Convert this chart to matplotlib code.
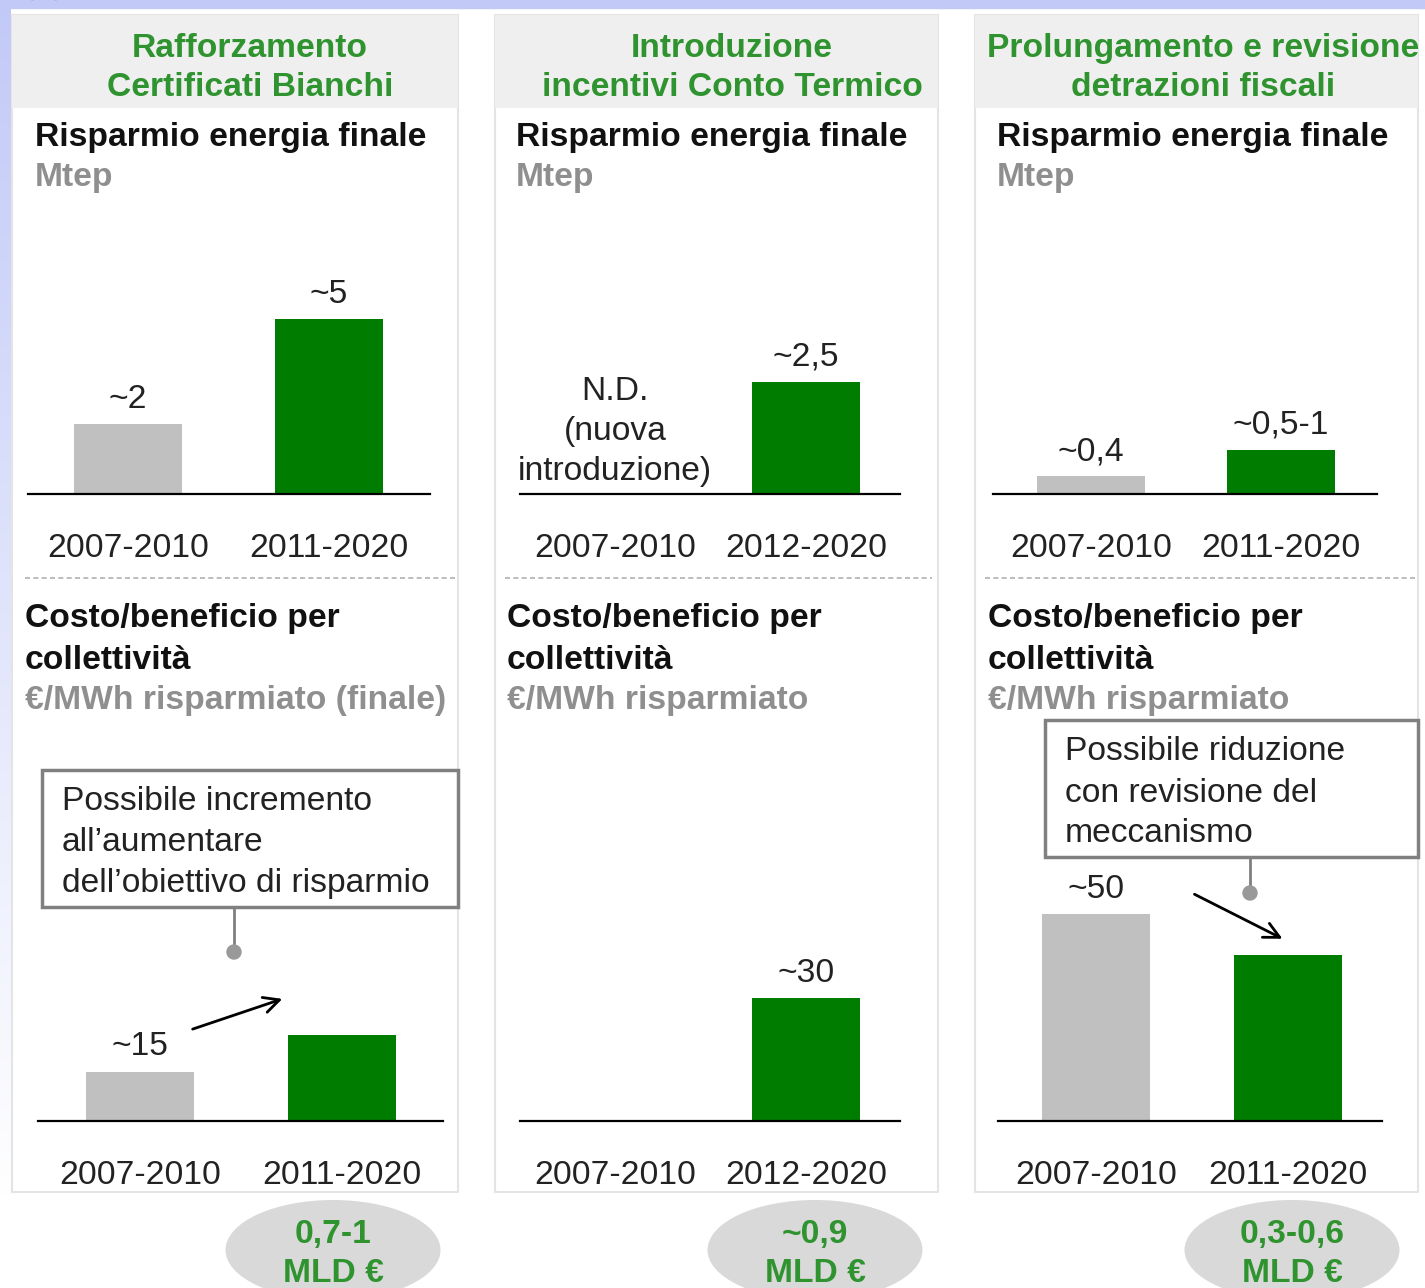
import numpy as np
import matplotlib
matplotlib.use("Agg")
import matplotlib.pyplot as plt
from matplotlib.patches import Rectangle, Ellipse, Circle, Arc

plt.rcParams['font.family'] = ['Liberation Sans', 'DejaVu Sans']

# ---- data ----
headers = ["Rafforzamento\nCertificati Bianchi",
           "Introduzione\nincentivi Conto Termico",
           "Prolungamento e revisione\ndetrazioni fiscali"]
periodi_top = [["2007-2010", "2011-2020"], ["2007-2010", "2012-2020"], ["2007-2010", "2011-2020"]]
periodi_bot = [["2007-2010", "2011-2020"], ["2007-2010", "2012-2020"], ["2007-2010", "2011-2020"]]
risparmio = [[2, 5], [np.nan, 2.5], [0.4, 1.0]]
risparmio_lbl = [["~2", "~5"], [None, "~2,5"], ["~0,4", "~0,5-1"]]
costo = [[15, 26], [np.nan, 30], [50, 40]]
costo_lbl = [["~15", None], [None, "~30"], ["~50", None]]
unita_costo = ["€/MWh risparmiato (finale)", "€/MWh risparmiato", "€/MWh risparmiato"]
totali = [["0,7-1", "MLD €"], ["~0,9", "MLD €"], ["0,3-0,6", "MLD €"]]

W, H = 1425, 1288
GREEN = "#007d00"
GREY_BAR = "#c0c0c0"
TXT_GREEN = "#2f932f"
TXT_GREY = "#8f8f8f"
FS = 24.2
DY = 3  # text vertical nudge (px)

fig = plt.figure(figsize=(W / 100, H / 100), dpi=100)
fig.patch.set_facecolor("white")

# background axes in pixel coordinates (origin top-left)
bg = fig.add_axes([0, 0, 1, 1], zorder=0)
bg.set_xlim(0, W)
bg.set_ylim(H, 0)
bg.axis("off")


def txt(x, y, s, **kw):
    kw.setdefault("va", "center")
    kw.setdefault("fontsize", FS)
    kw.setdefault("zorder", 4)
    return bg.text(x, y + DY, s, **kw)


# slide background: lavender strip top and fading strip on the left
grad = np.linspace(0, 1, 300)[:, None]
c0 = np.array([0.76, 0.79, 0.97])
c1 = np.array([1.0, 1.0, 1.0])
img = c0[None, None, :] * (1 - grad[:, :, None]) + c1[None, None, :] * grad[:, :, None]
bg.imshow(img, extent=(0, 11, 1200, 0), aspect="auto", zorder=0)
bg.add_patch(Rectangle((0, 0), W, 8, color=c0, zorder=0))
bg.add_patch(Arc((44, 0), 28, 26, theta1=180, theta2=360, color="black", lw=5, zorder=3))

panels_x = [(12, 458), (495, 938), (975, 1418)]
header_cx = [250, 732, 1203]
title_x = [35, 516, 997]
title2_x = [25, 507, 988]
dash_x = [(25, 455), (505, 932), (985, 1418)]

for i, (x0, x1) in enumerate(panels_x):
    bg.add_patch(Rectangle((x0, 15), x1 - x0, 1177, facecolor="white", edgecolor="#e4e4e4", lw=1.5, zorder=1))
    bg.add_patch(Rectangle((x0, 15), x1 - x0, 93, facecolor="#efefef", edgecolor="none", zorder=2))
    l1, l2 = headers[i].split("\n")
    txt(header_cx[i], 45, l1, ha="center", fontweight="bold", color=TXT_GREEN)
    txt(header_cx[i], 84, l2, ha="center", fontweight="bold", color=TXT_GREEN)
    txt(title_x[i], 134, "Risparmio energia finale", ha="left", fontweight="bold", color="#111111")
    txt(title_x[i], 174, "Mtep", ha="left", fontweight="bold", color=TXT_GREY)
    bg.plot(dash_x[i], [578, 578], ls=(0, (3, 2)), color="#b0b0b0", lw=1.2, zorder=3)
    txt(title2_x[i], 615, "Costo/beneficio per", ha="left", fontweight="bold", color="#111111")
    txt(title2_x[i], 657, "collettività", ha="left", fontweight="bold", color="#111111")
    txt(title2_x[i], 697, unita_costo[i], ha="left", fontweight="bold", color=TXT_GREY)

# totals in ellipses
ell_cx = [333, 815, 1292]
for i, cx in enumerate(ell_cx):
    bg.add_patch(Ellipse((cx, 1250), 215, 100, facecolor="#d9d9d9", edgecolor="none", zorder=2))
    txt(cx, 1232, totali[i][0], ha="center", fontweight="bold", color=TXT_GREEN)
    txt(cx, 1270, totali[i][1], ha="center", fontweight="bold", color=TXT_GREEN)

# N.D. note in panel 2
for y, s in zip([388, 428, 468], ["N.D.", "(nuova", "introduzione)"]):
    txt(615, y, s, ha="center", color="#222222")

# callout boxes
bg.add_patch(Rectangle((42, 770), 416, 137, facecolor="white", edgecolor="#808080", lw=2.5, zorder=3))
for y, s in zip([798, 839, 880], ["Possibile incremento", "all’aumentare", "dell’obiettivo di risparmio"]):
    txt(62, y, s, ha="left", color="#222222")
bg.plot([234, 234], [907, 952], color="#808080", lw=2, zorder=3)
bg.add_patch(Circle((234, 952), 7, color="#999999", zorder=3))
bg.annotate("", xy=(285, 998), xytext=(190, 1030),
            arrowprops=dict(arrowstyle="->", lw=2, color="black", mutation_scale=28), zorder=4)

bg.add_patch(Rectangle((1045, 720), 373, 137, facecolor="white", edgecolor="#808080", lw=2.5, zorder=3))
for y, s in zip([748, 790, 830], ["Possibile riduzione", "con revisione del", "meccanismo"]):
    txt(1065, y, s, ha="left", color="#222222")
bg.plot([1250, 1250], [857, 893], color="#808080", lw=2, zorder=3)
bg.add_patch(Circle((1250, 893), 7, color="#999999", zorder=3))
bg.annotate("", xy=(1285, 940), xytext=(1192, 893),
            arrowprops=dict(arrowstyle="->", lw=2, color="black", mutation_scale=28), zorder=4)


# ---- bar charts ----
def bar_chart(x0, x1, c0x, c1x, ybase, ytop, ppu, vals, lbls, ticks, ticklab_dy):
    ax = fig.add_axes([x0 / W, 1 - ybase / H, (x1 - x0) / W, (ybase - ytop) / H], zorder=2)
    ax.patch.set_alpha(0)
    d = c1x - c0x
    ax.set_xlim((x0 - c0x) / d, (x1 - c0x) / d)
    ax.set_ylim(0, (ybase - ytop) / ppu)
    for s in ["top", "left", "right"]:
        ax.spines[s].set_visible(False)
    ax.spines["bottom"].set_linewidth(1.6)
    ax.spines["bottom"].set_color("black")
    ax.set_xticks([])
    ax.set_yticks([])
    xs = np.arange(2)
    ax.bar(xs, vals, width=108 / d, color=[GREY_BAR, GREEN], zorder=2)
    for x, v, l in zip(xs, vals, lbls):
        if l is not None and not np.isnan(v):
            ax.annotate(l, (x, v), xytext=(0, 20 - DY * 0.72), textcoords="offset points",
                        ha="center", va="center", fontsize=FS, color="#222222",
                        annotation_clip=False)
    for x, t in zip(xs, ticks):
        ax.annotate(t, (x, 0), xytext=(0, -ticklab_dy - DY * 0.72), textcoords="offset points",
                    ha="center", va="center", fontsize=FS, color="#222222", annotation_clip=False)
    return ax


top_geo = [(28, 430, 128, 329), (520, 900, 615, 806), (993, 1377, 1091, 1281)]
bot_geo = [(38, 443, 140, 342), (520, 900, 615, 806), (998, 1382, 1096, 1288)]
top_ppu = [35, 45, 44]
bot_ppu = [3.3, 4.1, 4.14]

for i in range(3):
    gx0, gx1, ca, cb = top_geo[i]
    bar_chart(gx0, gx1, ca, cb, 494, 230, top_ppu[i], risparmio[i], risparmio_lbl[i], periodi_top[i], 37)
    gx0, gx1, ca, cb = bot_geo[i]
    bar_chart(gx0, gx1, ca, cb, 1121, 860, bot_ppu[i], costo[i], costo_lbl[i], periodi_bot[i], 37)

fig.savefig("out.png", dpi=100)
